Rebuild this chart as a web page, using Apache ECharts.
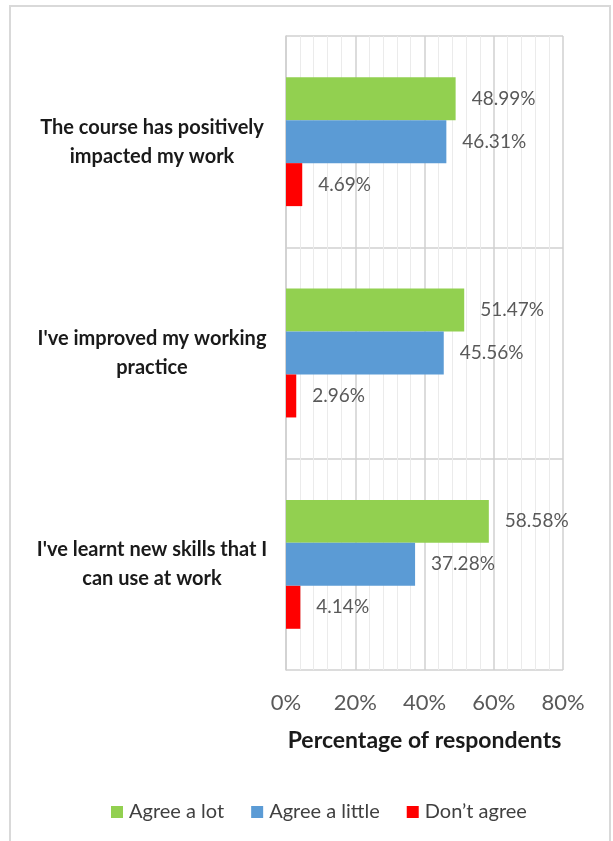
<!DOCTYPE html>
<html>
<head>
<meta charset="utf-8">
<script src="https://cdn.jsdelivr.net/npm/echarts@6/dist/echarts.min.js"></script>
<style>
  html, body { margin: 0; padding: 0; background: #ffffff; }
  #chart { width: 613px; height: 841px; }
</style>
</head>
<body>
<div id="chart"></div>
<script>
// ---- data ----
var categories = [
  "The course has positively impacted my work",
  "I've improved my working practice",
  "I've learnt new skills that I can use at work"
];
var categoryLabels = [
  "The course has positively\nimpacted my work",
  "I've improved my working\npractice",
  "I've learnt new skills that I\ncan use at work"
];
var seriesNames = ["Agree a lot", "Agree a little", "Don\u2019t agree"];
var agreeALot = [48.99, 51.47, 58.58];
var agreeALittle = [46.31, 45.56, 37.28];
var dontAgree = [4.69, 2.96, 4.14];
var xTicks = [0, 20, 40, 60, 80];

var colors = ["#92d050", "#5b9bd5", "#ff0000"];
var FONT = "Lato";

var chart = echarts.init(document.getElementById("chart"), null, { renderer: "canvas" });

function mkSeries(name, data, color) {
  return {
    name: name,
    type: "bar",
    data: data,
    barGap: "0%",
    barCategoryGap: "39%",
    itemStyle: { color: color },
    label: {
      show: true,
      position: "right",
      distance: 16,
      color: "#595959",
      fontFamily: FONT,
      fontSize: 19,
      formatter: function (p) { return p.value.toFixed(2) + "%"; }
    }
  };
}

chart.setOption({
  animation: false,
  backgroundColor: "#ffffff",
  textStyle: { fontFamily: FONT },
  graphic: [{
    type: "rect",
    shape: { x: 10, y: 6, width: 600, height: 900 },
    style: { fill: "none", stroke: "#d9d9d9", lineWidth: 2 },
    z: 0
  }],
  grid: { left: 286, right: 50, top: 36, bottom: 171 },
  legend: {
    bottom: 14,
    left: 106,
    itemWidth: 12,
    itemHeight: 12,
    itemGap: 27,
    icon: "rect",
    textStyle: { fontFamily: FONT, fontSize: 20, color: "#404040", padding: [0, 0, 0, 1] },
    data: seriesNames
  },
  xAxis: {
    type: "value",
    min: xTicks[0],
    max: xTicks[xTicks.length - 1],
    interval: 20,
    name: "Percentage of respondents",
    nameLocation: "middle",
    nameGap: 59,
    nameTextStyle: { fontFamily: FONT, fontSize: 23, fontWeight: "bold", color: "#1a1a1a" },
    axisLine: { show: false },
    axisTick: { show: false },
    axisLabel: {
      margin: 22,
      fontFamily: FONT,
      fontSize: 22,
      color: "#595959",
      formatter: function (v) { return v + "%"; }
    },
    splitLine: { show: true, lineStyle: { color: "#d0d0d0", width: 1.5 } },
    minorTick: { show: false, splitNumber: 5 },
    minorSplitLine: { show: true, lineStyle: { color: "#ebebeb", width: 1 } }
  },
  yAxis: {
    type: "category",
    inverse: true,
    data: categories,
    axisLine: { show: true, lineStyle: { color: "#d0d0d0", width: 1.5 } },
    axisTick: { show: false },
    splitLine: { show: true, lineStyle: { color: "#d0d0d0", width: 1.5 } },
    axisLabel: {
      align: "center",
      margin: 134,
      fontFamily: FONT,
      fontSize: 20,
      fontWeight: "bold",
      lineHeight: 29,
      color: "#1a1a1a",
      formatter: function (v, i) { return categoryLabels[i]; }
    }
  },
  series: [
    mkSeries(seriesNames[0], agreeALot, colors[0]),
    mkSeries(seriesNames[1], agreeALittle, colors[1]),
    mkSeries(seriesNames[2], dontAgree, colors[2])
  ]
});
</script>
</body>
</html>
